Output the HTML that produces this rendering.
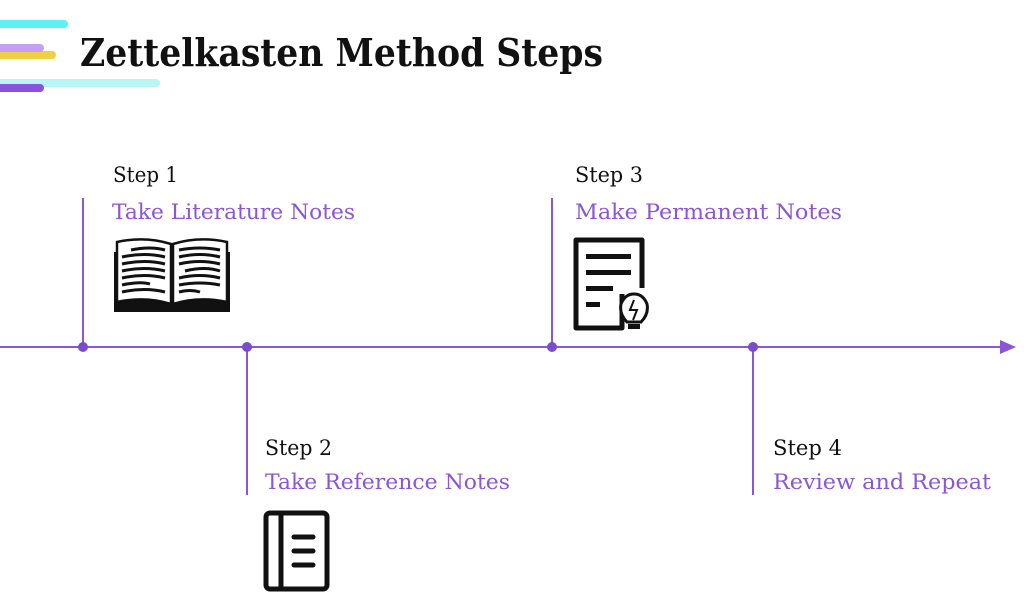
<!DOCTYPE html>
<html><head><meta charset="utf-8"><style>
html,body{margin:0;padding:0;background:#fff;width:1024px;height:599px;overflow:hidden}
svg{display:block}
text{font-family:"DejaVu Serif","Liberation Serif",serif}
</style></head><body>
<svg width="1024" height="599" viewBox="0 0 1024 599" xmlns="http://www.w3.org/2000/svg">
<g stroke-linecap="round" stroke-width="8">
<line x1="0" y1="24" x2="64" y2="24" stroke="#5ef0f2"/>
<line x1="0" y1="55" x2="52" y2="55" stroke="#f0d040"/>
<line x1="0" y1="48" x2="40" y2="48" stroke="#c4a0f4"/>
<line x1="0" y1="83" x2="156" y2="83" stroke="#b8f6f6"/>
<line x1="0" y1="88" x2="40" y2="88" stroke="#8a50e0"/>
</g>
<text x="80" y="66" font-size="38" font-weight="bold" fill="#111" textLength="523" lengthAdjust="spacingAndGlyphs">Zettelkasten Method Steps</text>
<g stroke="#8a55d6" stroke-width="2">
<line x1="0" y1="347" x2="1004" y2="347"/>
<line x1="83" y1="198" x2="83" y2="347"/>
<line x1="247" y1="347" x2="247" y2="495"/>
<line x1="552" y1="198" x2="552" y2="347"/>
<line x1="753" y1="347" x2="753" y2="495"/>
</g>
<polygon points="1000,340 1016,347 1000,354" fill="#8a55d6"/>
<g fill="#7a4cc8"><circle cx="83" cy="347" r="5"/><circle cx="247" cy="347" r="5"/><circle cx="552" cy="347" r="5"/><circle cx="753" cy="347" r="5"/></g>
<g font-size="21" fill="#111">
<text x="113" y="182" textLength="65" lengthAdjust="spacingAndGlyphs">Step 1</text>
<text x="265" y="455" textLength="67" lengthAdjust="spacingAndGlyphs">Step 2</text>
<text x="575" y="182" textLength="68" lengthAdjust="spacingAndGlyphs">Step 3</text>
<text x="773" y="455" textLength="69" lengthAdjust="spacingAndGlyphs">Step 4</text>
</g>
<g font-size="21" fill="#8a55d6">
<text x="112" y="219" textLength="243" lengthAdjust="spacingAndGlyphs">Take Literature Notes</text>
<text x="265" y="489" textLength="245" lengthAdjust="spacingAndGlyphs">Take Reference Notes</text>
<text x="575" y="219" textLength="267" lengthAdjust="spacingAndGlyphs">Make Permanent Notes</text>
<text x="773" y="489" textLength="218" lengthAdjust="spacingAndGlyphs">Review and Repeat</text>
</g>
<!-- book -->
<g>
<rect x="114" y="252" width="116" height="60" fill="#111"/>
<path d="M117 242 Q145 236 171 244 L171 304 Q145 296 117 302 Z" fill="#fff" stroke="#111" stroke-width="2.5"/>
<path d="M227 242 Q199 236 173 244 L173 304 Q199 296 227 302 Z" fill="#fff" stroke="#111" stroke-width="2.5"/>
<g stroke="#111" stroke-width="3" fill="none">
<path d="M131 250 Q150 246 165 250"/><path d="M122 257 Q145 252 165 257"/><path d="M122 264 Q145 259 165 264"/><path d="M122 271 Q145 266 165 271"/><path d="M122 278 Q145 273 165 278"/><path d="M122 285 Q140 281 150 284"/><path d="M122 292 Q145 287 165 292"/>
<path d="M179 250 Q200 246 220 250"/><path d="M179 257 Q200 252 220 257"/><path d="M179 264 Q200 259 220 264"/><path d="M185 271 Q205 266 220 271"/><path d="M179 278 Q200 273 220 278"/><path d="M179 285 Q200 281 220 285"/><path d="M179 292 Q190 289 200 292"/>
<path d="M116 306 Q145 298 172 308 Q199 298 228 306"/>
</g>
</g>
<!-- permanent notes -->
<g fill="none" stroke="#111" stroke-width="5">
<path d="M622 294 V328 H576 V240 H642 V288" stroke-linejoin="round"/>
</g>
<g fill="#111"><rect x="586" y="254" width="45" height="5"/><rect x="586" y="270" width="45" height="5"/><rect x="586" y="286" width="27" height="5"/><rect x="586" y="302" width="14" height="5"/></g>
<path d="M627 322 Q619 314 621 304 Q625 294 634 294 Q643 294 647 304 Q649 314 641 322 Z" fill="#fff" stroke="#111" stroke-width="3"/>
<path d="M634 300 L630 310 L637 310 L633 320" fill="none" stroke="#111" stroke-width="2"/>
<rect x="628" y="324" width="12" height="5" fill="#111"/>
<!-- reference -->
<rect x="266" y="513" width="61" height="76" rx="4" fill="none" stroke="#111" stroke-width="5"/>
<line x1="281" y1="513" x2="281" y2="589" stroke="#111" stroke-width="5"/>
<g stroke="#111" stroke-width="5" stroke-linecap="round"><line x1="294" y1="537" x2="313" y2="537"/><line x1="294" y1="551" x2="313" y2="551"/><line x1="294" y1="565" x2="313" y2="565"/></g>
</svg>
</body></html>
